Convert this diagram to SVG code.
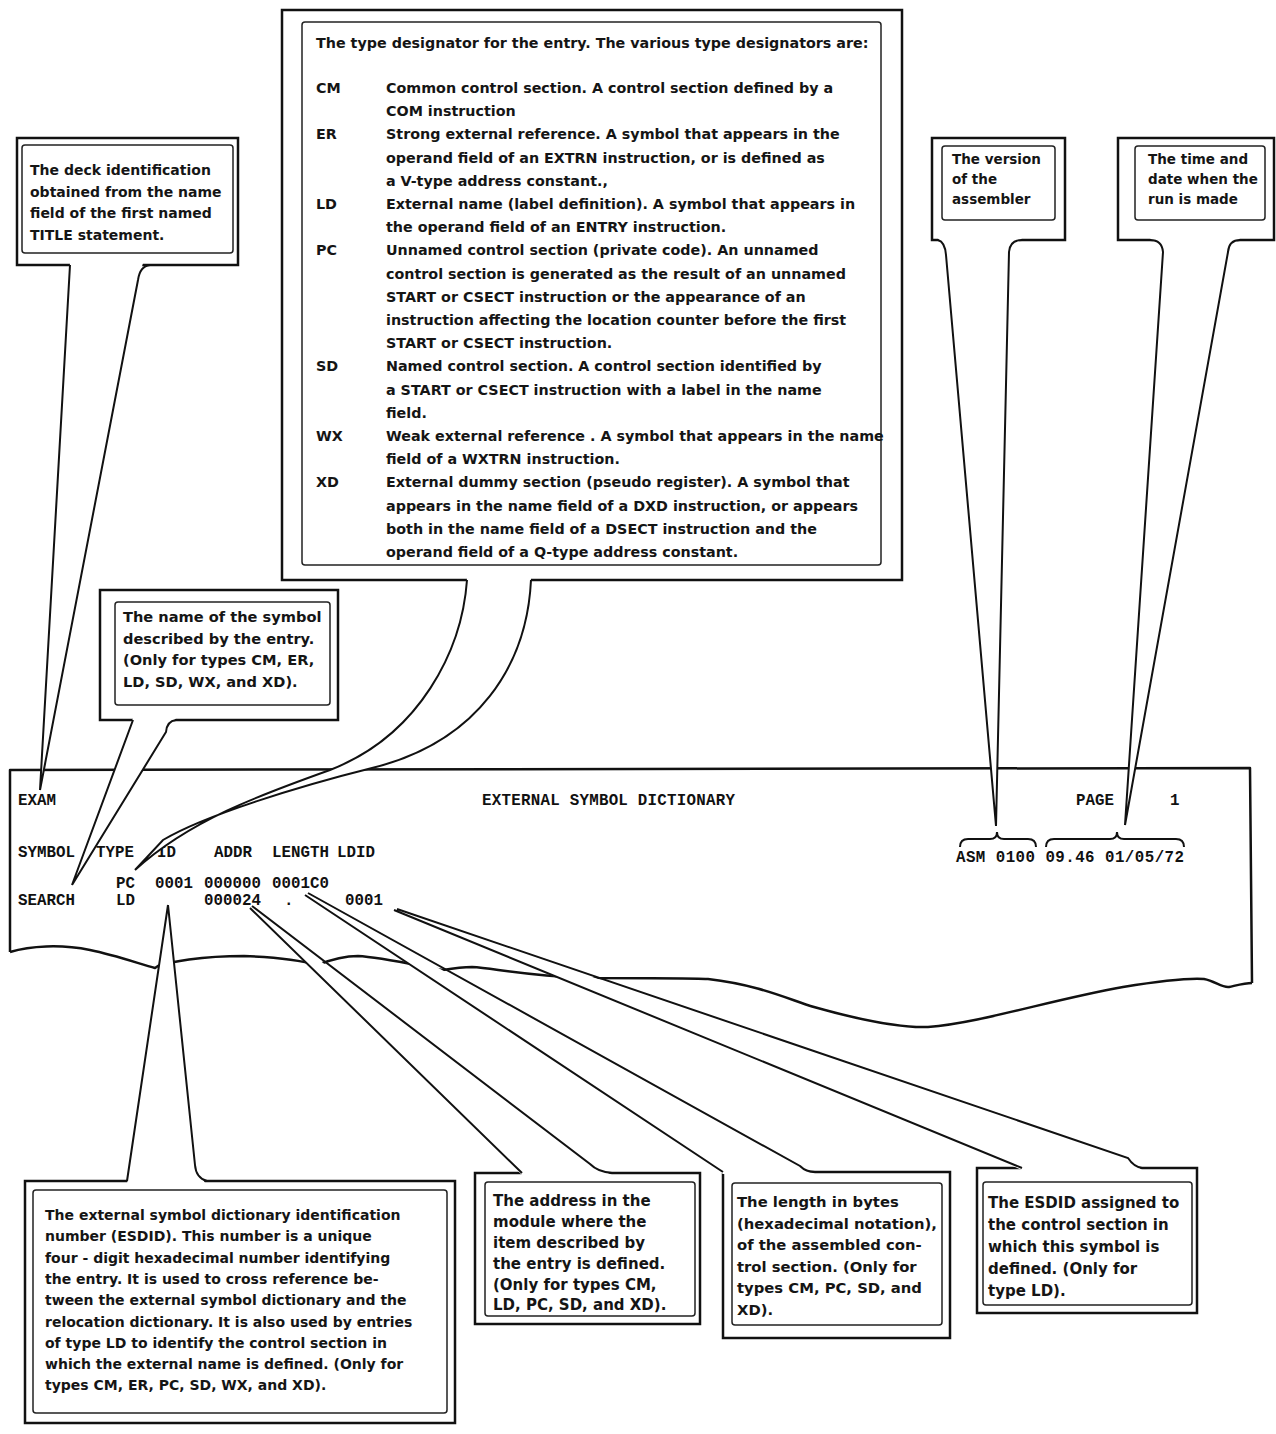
<svg xmlns="http://www.w3.org/2000/svg" width="1276" height="1434" viewBox="0 0 1276 1434">
<style>
.box{fill:#fff;stroke:#111;stroke-width:2.5}
.inner{fill:none;stroke:#222;stroke-width:1.5}
.t{font-family:"DejaVu Sans",sans-serif;font-weight:bold;fill:#151515}
.m{font-family:"Liberation Mono",monospace;font-weight:bold;font-size:15.8px;fill:#111}
.edge{fill:none;stroke:#111;stroke-width:2.5;stroke-linejoin:round}
.tf{fill:#fff;stroke:none}
.tl{fill:none;stroke:#111;stroke-width:2}
</style>
<rect x="0" y="0" width="1276" height="1434" fill="#fff"/>

<g id="printout">
<path class="edge" d="M10,952 L10,770 L1250,768 L1252,983"/>
<path class="edge" d="M10,952 C30,946 60,944 90,950 C115,955 140,964 155,968 L158,966 C170,962 200,956 244,956 C270,957 300,960 317,965 C330,960 345,956 358,956 C380,957 420,966 443,970 C455,968 465,967 472,967 C495,968 515,975 586,978 C650,978 690,978 708,979 C760,985 790,1000 814,1007 C860,1020 900,1028 928,1027 C980,1023 1050,1000 1123,987 C1160,981 1190,978 1204,979 C1215,981 1222,988 1229,987 C1238,985 1245,983 1252,983"/>
<text class="m" x="18" y="805">EXAM</text>
<text class="m" x="482" y="805" textLength="253">EXTERNAL SYMBOL DICTIONARY</text>
<text class="m" x="1076" y="805">PAGE</text>
<text class="m" x="1170" y="805">1</text>
<path class="tl" d="M960,847 Q960,839 968,839 L990,839 Q997,839 997,832 Q997,839 1004,839 L1028,839 Q1036,839 1036,847"/>
<path class="tl" d="M1046,847 Q1046,839 1054,839 L1110,839 Q1117,839 1117,832 Q1117,839 1124,839 L1176,839 Q1184,839 1184,847"/>
<text class="m" x="956" y="862" textLength="228">ASM 0100 09.46 01/05/72</text>
<text class="m" x="18" y="857">SYMBOL</text>
<text class="m" x="96" y="857">TYPE</text>
<text class="m" x="157" y="857">ID</text>
<text class="m" x="214" y="857">ADDR</text>
<text class="m" x="272" y="857">LENGTH</text>
<text class="m" x="337" y="857">LDID</text>
<text class="m" x="116" y="888">PC</text>
<text class="m" x="155" y="888">0001</text>
<text class="m" x="204" y="888">000000</text>
<text class="m" x="272" y="888">0001C0</text>
<text class="m" x="18" y="905">SEARCH</text>
<text class="m" x="116" y="905">LD</text>
<text class="m" x="204" y="905">000024</text>
<text class="m" x="284" y="905">.</text>
<text class="m" x="345" y="905">0001</text>
</g>

<g id="box-deck">
<rect class="box" x="17" y="138" width="221" height="127"/>
<rect class="inner" x="22" y="145" width="211" height="108" rx="3"/>
<g class="t" font-size="14">
<text x="30" y="175">The deck identification</text>
<text x="30" y="197">obtained from the name</text>
<text x="30" y="218">field of the first named</text>
<text x="30" y="240">TITLE statement.</text>
</g>
</g>

<g id="box-types">
<rect class="box" x="282" y="10" width="620" height="570"/>
<rect class="inner" x="302" y="22" width="579" height="543" rx="3"/>
<g class="t" font-size="14.3">
<text x="316" y="48">The type designator for the entry.  The various type designators are:</text>
<text x="316" y="93">CM</text>
<text x="386" y="93">Common control section. A control section defined by a</text>
<text x="386" y="116.2">COM instruction</text>
<text x="316" y="139.4">ER</text>
<text x="386" y="139.4">Strong external reference.  A symbol that appears in the</text>
<text x="386" y="162.6">operand field of an EXTRN instruction, or is defined as</text>
<text x="386" y="185.8">a V-type address constant.,</text>
<text x="316" y="209">LD</text>
<text x="386" y="209">External name (label definition). A symbol that appears in</text>
<text x="386" y="232.2">the operand field of an ENTRY instruction.</text>
<text x="316" y="255.4">PC</text>
<text x="386" y="255.4">Unnamed control section (private code).  An unnamed</text>
<text x="386" y="278.6">control section is generated as the result of an unnamed</text>
<text x="386" y="301.8">START or CSECT instruction or the appearance of an</text>
<text x="386" y="325">instruction affecting the location counter before the first</text>
<text x="386" y="348.2">START or CSECT instruction.</text>
<text x="316" y="371.4">SD</text>
<text x="386" y="371.4">Named control section. A control section identified by</text>
<text x="386" y="394.6">a START or CSECT instruction with a label in the name</text>
<text x="386" y="417.8">field.</text>
<text x="316" y="441">WX</text>
<text x="386" y="441">Weak external reference . A symbol that appears in the name</text>
<text x="386" y="464.2">field of a WXTRN instruction.</text>
<text x="316" y="487.4">XD</text>
<text x="386" y="487.4">External dummy section (pseudo register).  A symbol that</text>
<text x="386" y="510.6">appears in the name field of a DXD instruction, or appears</text>
<text x="386" y="533.8">both in the name field of a DSECT instruction and the</text>
<text x="386" y="557">operand field of a Q-type address constant.</text>
</g>
</g>

<g id="box-name">
<rect class="box" x="100" y="590" width="238" height="130"/>
<rect class="inner" x="115" y="602" width="215" height="103" rx="3"/>
<g class="t" font-size="14.6">
<text x="123" y="622">The name of the symbol</text>
<text x="123" y="643.5">described by the entry.</text>
<text x="123" y="665">(Only for types CM, ER,</text>
<text x="123" y="686.5">LD, SD, WX, and XD).</text>
</g>
</g>

<g id="box-version">
<rect class="box" x="932" y="138" width="133" height="102"/>
<rect class="inner" x="942" y="146" width="113" height="74" rx="3"/>
<g class="t" font-size="13.5">
<text x="952" y="164">The version</text>
<text x="952" y="184">of the</text>
<text x="952" y="204">assembler</text>
</g>
</g>

<g id="box-time">
<rect class="box" x="1118" y="138" width="156" height="102"/>
<rect class="inner" x="1135" y="146" width="130" height="74" rx="3"/>
<g class="t" font-size="13.5">
<text x="1148" y="164">The time and</text>
<text x="1148" y="184">date when the</text>
<text x="1148" y="204">run is made</text>
</g>
</g>

<g id="box-esdid">
<rect class="box" x="25" y="1181" width="430" height="242"/>
<rect class="inner" x="33" y="1190" width="414" height="223" rx="3"/>
<g class="t" font-size="14">
<text x="45" y="1220">The external symbol dictionary identification</text>
<text x="45" y="1241.3">number (ESDID).  This number is a unique</text>
<text x="45" y="1262.6">four - digit hexadecimal number identifying</text>
<text x="45" y="1283.9">the entry.  It is used to cross reference be-</text>
<text x="45" y="1305.2">tween the external symbol dictionary and the</text>
<text x="45" y="1326.5">relocation dictionary.  It is also used by entries</text>
<text x="45" y="1347.8">of type LD to identify the control section in</text>
<text x="45" y="1369.1">which the external name is defined. (Only for</text>
<text x="45" y="1390.4">types CM, ER, PC, SD, WX, and XD).</text>
</g>
</g>

<g id="box-addr">
<rect class="box" x="475" y="1173" width="225" height="151"/>
<rect class="inner" x="485" y="1182" width="210" height="134" rx="3"/>
<g class="t" font-size="15">
<text x="493" y="1206">The address in the</text>
<text x="493" y="1227">module where the</text>
<text x="493" y="1248">item described by</text>
<text x="493" y="1269">the entry is defined.</text>
<text x="493" y="1290">(Only for types CM,</text>
<text x="493" y="1310">LD, PC, SD, and XD).</text>
</g>
</g>

<g id="box-length">
<rect class="box" x="723" y="1172" width="227" height="166"/>
<rect class="inner" x="732" y="1183" width="210" height="142" rx="3"/>
<g class="t" font-size="14.8">
<text x="737" y="1207">The length in bytes</text>
<text x="737" y="1228.5">(hexadecimal notation),</text>
<text x="737" y="1250">of the assembled con-</text>
<text x="737" y="1271.5">trol section. (Only for</text>
<text x="737" y="1293">types CM, PC, SD, and</text>
<text x="737" y="1314.5">XD).</text>
</g>
</g>

<g id="box-ldid">
<rect class="box" x="977" y="1168" width="220" height="145"/>
<rect class="inner" x="983" y="1182" width="209" height="123" rx="3"/>
<g class="t" font-size="15">
<text x="988" y="1208">The ESDID assigned to</text>
<text x="988" y="1230">the control section in</text>
<text x="988" y="1252">which this symbol is</text>
<text x="988" y="1274">defined. (Only for</text>
<text x="988" y="1296">type LD).</text>
</g>
</g>

<g id="connectors">
<polygon class="tf" points="70,263 143,263 138,280 40,790"/>
<path class="tl" d="M70,265 L40,790 M150,265 Q140,266 138,280 L40,790"/>
<path class="tf" d="M467,578 L531,578 C527,665 478,742 372,768 C300,786 205,815 163,840 L135,870 C190,820 260,795 330,770 C420,735 462,650 467,578 Z"/>
<path class="tl" d="M467,580 C462,650 420,735 330,770 C260,795 190,820 135,870 M531,580 C527,665 478,742 372,768 C300,786 205,815 163,840 L135,870"/>
<polygon class="tf" points="133,718 176,718 166,732 72,885"/>
<path class="tl" d="M133,720 L72,885 M176,720 Q167,721 166,732 L72,885"/>
<polygon class="tf" points="938,238 1022,238 1009,252 996,826 946,255"/>
<path class="tl" d="M938,240 Q945,242 946,255 L996,826 M1022,240 Q1010,240 1009,252 L996,826"/>
<polygon class="tf" points="1150,238 1240,238 1228,252 1125,825 1163,252"/>
<path class="tl" d="M1150,240 Q1162,240 1163,252 L1125,825 M1240,240 Q1229,240 1228,252 L1125,825"/>
<polygon class="tf" points="127,1184 168,905 195,1165 205,1183"/>
<path class="tl" d="M127,1181 L168,905 M207,1181 Q196,1178 195,1165 L168,905"/>
<polygon class="tf" points="250,908 522,1175 612,1175 590,1164"/>
<path class="tl" d="M250,908 L522,1173 M252,906 L590,1164 Q598,1172 612,1173"/>
<polygon class="tf" points="305,895 723,1174 815,1174 800,1166"/>
<path class="tl" d="M305,895 L723,1172 M308,893 L800,1166 Q806,1172 815,1172"/>
<polygon class="tf" points="394,910 1022,1170 1142,1170 1128,1158"/>
<path class="tl" d="M394,910 L1022,1168 M397,909 L1128,1158 Q1134,1167 1142,1168"/>
</g>
</svg>
